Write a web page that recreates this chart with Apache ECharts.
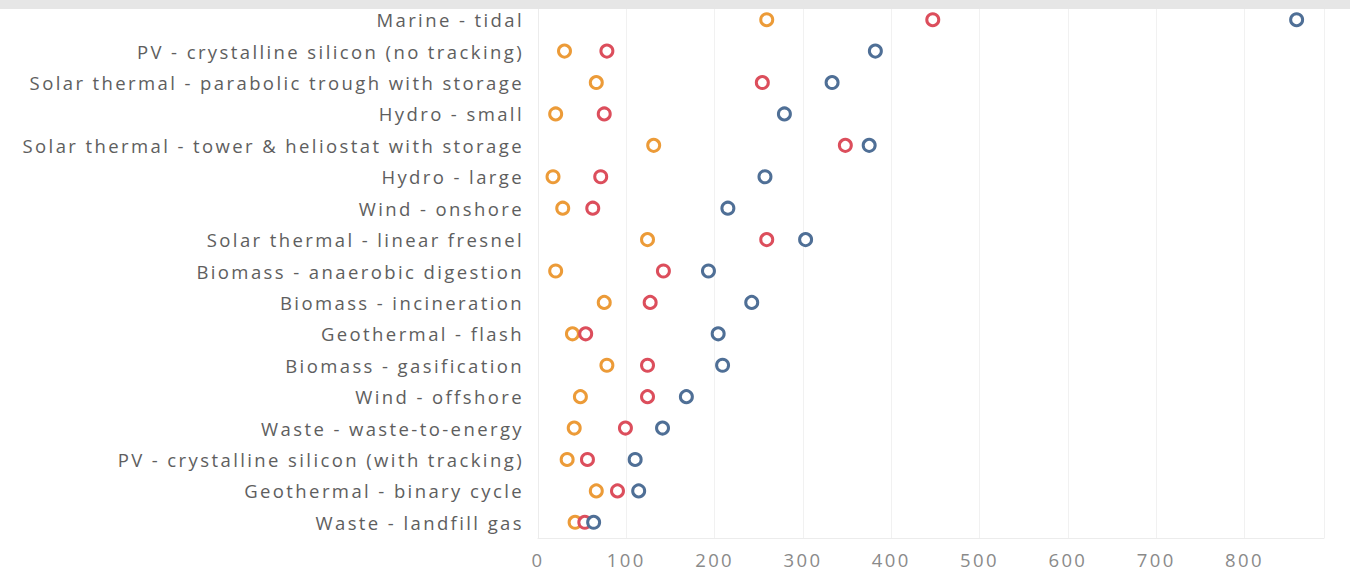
<!DOCTYPE html>
<html>
<head>
<meta charset="utf-8">
<title>LCOE by technology</title>
<script src="https://cdn.jsdelivr.net/npm/echarts@6/dist/echarts.min.js"></script>
<style>
  html, body { margin: 0; padding: 0; background: #fff; }
  #main { width: 1350px; height: 573px; }
  /* tableau-ish wide lettering */
  #main text { letter-spacing: 2.4px; }
</style>
</head>
<body>
<div id="main"></div>
<script>
// categories, top to bottom
const categories = [
  'Marine - tidal',
  'PV - crystalline silicon (no tracking)',
  'Solar thermal - parabolic trough with storage',
  'Hydro - small',
  'Solar thermal - tower & heliostat with storage',
  'Hydro - large',
  'Wind - onshore',
  'Solar thermal - linear fresnel',
  'Biomass - anaerobic digestion',
  'Biomass - incineration',
  'Geothermal - flash',
  'Biomass - gasification',
  'Wind - offshore',
  'Waste - waste-to-energy',
  'PV - crystalline silicon (with tracking)',
  'Geothermal - binary cycle',
  'Waste - landfill gas'
]
// three values per row (orange / red / blue)
const lowValues = [259, 30, 66, 20, 131, 17, 28, 124, 20, 75, 39, 78, 48, 41, 33, 66, 42]
const midValues = [447, 78, 254, 75, 348, 71, 62, 259, 142, 127, 54, 124, 124, 99, 56, 90, 53]
const highValues = [859, 382, 333, 279, 375, 257, 215, 303, 193, 242, 204, 209, 168, 141, 110, 114, 63]
const xTicks = [0, 100, 200, 300, 400, 500, 600, 700, 800]

const seriesNames = ['Low', 'Mid', 'High']
const seriesColors = ['#ec9b38', '#dc4e5c', '#4f6f96']

const chartDom = document.querySelector('#main')
const myChart = echarts.init(chartDom, null, { renderer: 'svg' })

const makeSeries = (name, values, color) => {
  return {
    name: name,
    type: 'scatter',
    symbol: 'circle',
    symbolSize: 12,
    itemStyle: {
      color: '#fff',
      borderColor: color,
      borderWidth: 3,
      opacity: 1
    },
    data: values.map((v, i) => [v, categories[i]])
  }
}

const option = {
  animation: false,
  textStyle: {
    fontFamily: 'Open Sans'
  },
  grid: {
    left: 538,
    right: 26,
    top: 4,
    bottom: 35
  },
  xAxis: {
    type: 'value',
    min: 0,
    max: 890,
    interval: 100,
    axisLine: {
      show: true,
      lineStyle: { color: '#ececec' }
    },
    axisTick: { show: false },
    axisLabel: {
      color: '#8a8a8a',
      fontSize: 18.5,
      margin: 12,
      formatter: v => xTicks.includes(v) ? String(v) : ''
    },
    splitLine: {
      show: true,
      lineStyle: { color: '#f1f1f1', width: 1 }
    }
  },
  yAxis: {
    type: 'category',
    inverse: true,
    data: categories,
    axisLine: {
      show: true,
      lineStyle: { color: '#ececec' }
    },
    axisTick: { show: false },
    axisLabel: {
      color: '#5e5e5e',
      fontSize: 18.5,
      margin: 14
    },
    splitLine: { show: false }
  },
  series: [
    makeSeries(seriesNames[0], lowValues, seriesColors[0]),
    makeSeries(seriesNames[1], midValues, seriesColors[1]),
    makeSeries(seriesNames[2], highValues, seriesColors[2])
  ],
  graphic: [
    {
      // grey strip along the top edge
      type: 'rect',
      left: 0,
      top: 0,
      z: 100,
      shape: { width: 1350, height: 9 },
      style: { fill: '#e6e6e6' }
    }
  ]
}

myChart.setOption(option)
</script>
</body>
</html>
